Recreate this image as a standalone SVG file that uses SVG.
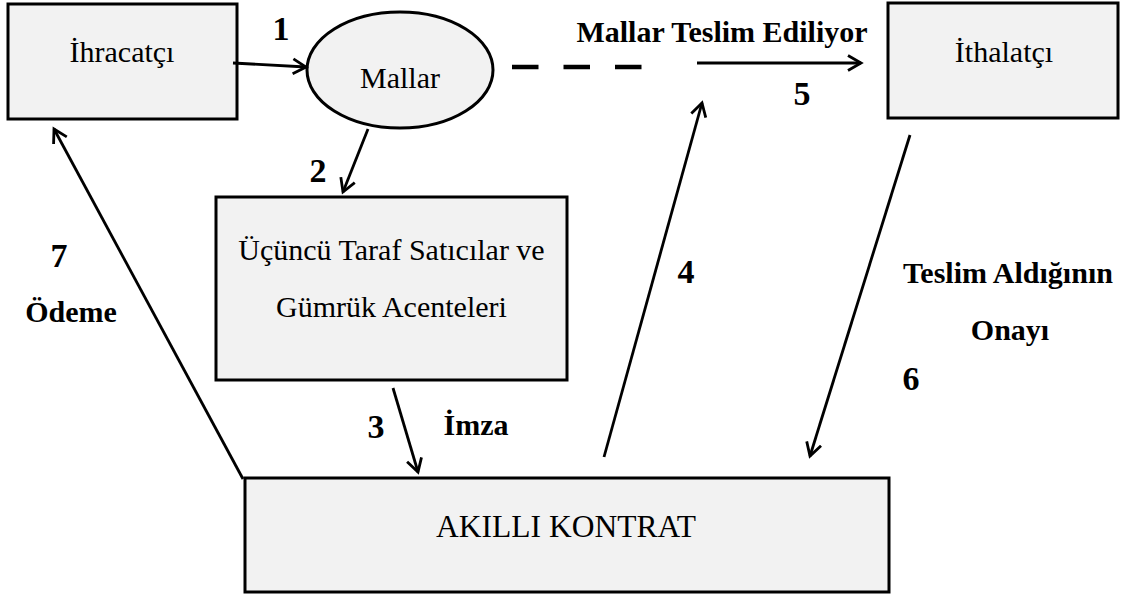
<svg xmlns="http://www.w3.org/2000/svg" width="1130" height="599" viewBox="0 0 1130 599">
<defs>
<style>
.box{fill:#f2f2f2;stroke:#000;stroke-width:3}
.t{font-family:"Liberation Serif","Times New Roman",serif;font-size:30px;fill:#000;text-anchor:middle}
.b{font-family:"Liberation Serif","Times New Roman",serif;font-size:30px;font-weight:bold;fill:#000;text-anchor:middle}
.n{font-size:34px}
.c{stroke:#000;stroke-width:2.8;fill:none}
</style>
<marker id="ah" markerUnits="userSpaceOnUse" markerWidth="20" markerHeight="20" refX="14" refY="8.5" orient="auto" viewBox="0 0 20 17">
<path d="M1,1 L14,8.5 L1,16" fill="none" stroke="#000" stroke-width="2.8"/>
</marker>
</defs>
<rect width="1130" height="599" fill="#fff"/>
<g id="ihracatci"><rect class="box" x="8" y="4" width="229" height="115"/><text class="t" x="122" y="62">İhracatçı</text></g>
<g id="mallar"><ellipse class="box" cx="400" cy="70" rx="93" ry="58"/><text class="t" x="400" y="88">Mallar</text></g>
<g id="ithalatci"><rect class="box" x="888" y="3" width="230" height="115"/><text class="t" x="1004" y="62">İthalatçı</text></g>
<g id="ucuncu"><rect class="box" x="216" y="197" width="351" height="183"/><text class="t" x="391.5" y="260">Üçüncü Taraf Satıcılar ve</text><text class="t" x="391.5" y="317">Gümrük Acenteleri</text></g>
<g id="akilli"><rect class="box" x="245" y="478" width="644" height="114"/><text class="t" x="566" y="537" style="font-size:31.5px">AKILLI KONTRAT</text></g>
<g id="connectors">
<line class="c" x1="233" y1="63" x2="306" y2="67" marker-end="url(#ah)"/>
<line class="c" x1="368" y1="129" x2="343" y2="192" marker-end="url(#ah)"/>
<line x1="512" y1="67" x2="643" y2="67" stroke="#000" stroke-width="4.5" stroke-dasharray="26.5,25"/>
<line class="c" x1="697" y1="63" x2="861" y2="63" marker-end="url(#ah)"/>
<line class="c" x1="393" y1="388" x2="418" y2="472" marker-end="url(#ah)"/>
<line class="c" x1="604" y1="457" x2="702" y2="103" marker-end="url(#ah)"/>
<line class="c" x1="910" y1="135" x2="810" y2="456" marker-end="url(#ah)"/>
<line class="c" x1="243" y1="479" x2="54" y2="129" marker-end="url(#ah)"/>
</g>
<g id="labels">
<text class="b n" x="281" y="40">1</text>
<text class="b n" x="318" y="182">2</text>
<text class="b n" x="376" y="438">3</text>
<text class="b" x="476" y="435">İmza</text>
<text class="b n" x="686" y="283">4</text>
<text class="b" x="722" y="42">Mallar Teslim Ediliyor</text>
<text class="b n" x="802" y="105">5</text>
<text class="b" x="1008" y="283">Teslim Aldığının</text>
<text class="b" x="1010" y="340">Onayı</text>
<text class="b n" x="911" y="390">6</text>
<text class="b n" x="59" y="267">7</text>
<text class="b" x="71" y="322">Ödeme</text>
</g>
</svg>
